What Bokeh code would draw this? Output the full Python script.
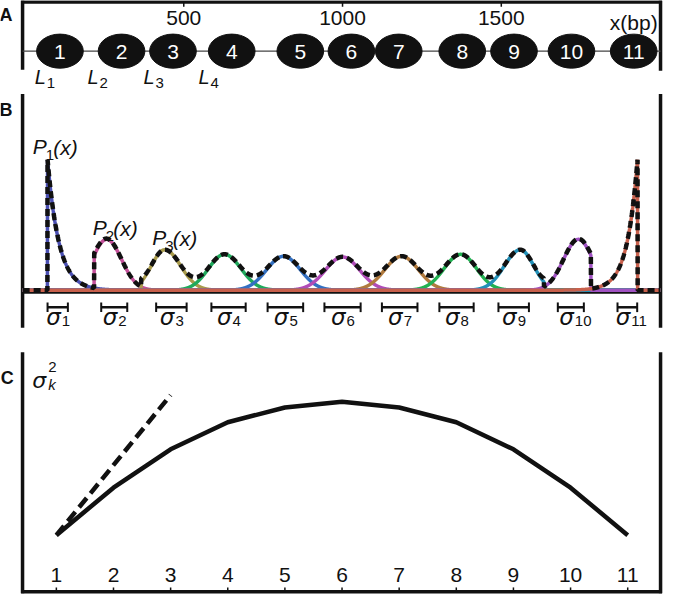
import numpy as np
from bokeh.plotting import figure
from bokeh.layouts import column
from bokeh.models import Range1d
from bokeh.core.properties import value
from bokeh.embed import file_html
from bokeh.resources import INLINE

# ---------------- data ----------------
# Panel A: nucleosome positions along the DNA (bp)
nuc_ids = ["1", "2", "3", "4", "5", "6", "7", "8", "9", "10", "11"]
nuc_centers_bp = [110, 304, 466, 651, 867, 1028, 1177, 1377, 1540, 1721, 1917]
nuc_length_bp = 147
bp_ticks = [500, 1000, 1500]
bp_tick_labels = ["500", "1000", "1500"]
linker_ids = ["1", "2", "3", "4"]
linker_label_bp = [31, 197, 373, 546]

# Panel B: position distributions P_k(x)
peak_bp = [71, 257, 440, 628, 814, 1000, 1186, 1372, 1560, 1743, 1929]
peak_height = [1.00, 0.39, 0.31, 0.275, 0.26, 0.255, 0.26, 0.275, 0.31, 0.39, 1.00]
width_left = [36, 45, 42, 50, 53, 54, 53, 52, 50, 47, 33]
width_right = [36, 47, 50, 52, 53, 54, 53, 50, 42, 45, 33]
tail_shape = ["exp", "gauss", "gauss", "gauss", "gauss", "gauss",
              "gauss", "gauss", "gauss", "gauss", "exp"]
lower_edge = [71, 218, 366, 0, 0, 0, 0, 0, 0, 0, 0]
upper_edge = [2000, 2000, 2000, 2000, 2000, 2000, 2000, 2000, 1634, 1782, 1929]
curve_colors = ["#4a4fb2", "#c4509a", "#a99b4c", "#1faa5c", "#3370c2", "#b04cb8",
                "#b07a3e", "#22b152", "#2190b8", "#a052c2", "#c8604c"]
sigma_mean_bp = [103, 281, 461, 641, 820, 1000, 1180, 1359, 1539, 1719, 1897]
sigma_bp = [32, 41, 48, 54, 56, 57, 56, 54, 48, 41, 31]
sigma_ids = ["1", "2", "3", "4", "5", "6", "7", "8", "9", "10", "11"]
p_label_ids = ["1", "2", "3"]
p_label_bp = [24.7, 213, 401]
p_label_y = [1.10, 0.478, 0.403]

# Panel C: variance of nucleosome position
k_vals = [1, 2, 3, 4, 5, 6, 7, 8, 9, 10, 11]
k_labels = ["1", "2", "3", "4", "5", "6", "7", "8", "9", "10", "11"]
sigma2 = [1.00, 1.84, 2.52, 3.00, 3.26, 3.36, 3.26, 3.00, 2.52, 1.84, 1.00]
linear_k = [1, 3]
linear_sigma2 = [1.00, 3.48]

# ---------------- styling ----------------
FONT = value("Liberation Sans")
GREEK = value("DejaVu Sans")
INK = "#111111"
W = 664
XR_BP = (-77.2, 2014.0)
X_LEFT, X_RIGHT = -7.7, 2001.5


def base_fig(h, xr, yr):
    p = figure(width=W, height=h, x_range=Range1d(*xr), y_range=Range1d(*yr),
               x_axis_type=None, y_axis_type=None, toolbar_location=None,
               output_backend="svg", min_border_left=0, min_border_right=0,
               min_border_top=0, min_border_bottom=0)
    p.outline_line_color = None
    p.background_fill_color = "white"
    p.border_fill_color = "white"
    return p


def txt(p, x, y, t, size="21px", style="normal", align="center", color=INK,
        font=FONT, x_offset=0, baseline="middle"):
    p.text(x=x, y=y, text=t, text_font=font, text_font_size=size,
           text_font_style=style, text_align=align, text_baseline=baseline,
           text_color=color, x_offset=x_offset)


# ---------------- Panel A ----------------
pA = base_fig(93, XR_BP, (95.48, 0))
pA.segment(x0=[-12.3], y0=[1.6], x1=[2006.2], y1=[1.6], line_width=3.5, line_color=INK)
pA.segment(x0=[X_LEFT, X_RIGHT], y0=[0, 0], x1=[X_LEFT, X_RIGHT], y1=[71, 72],
           line_width=3.5, line_color=INK)
pA.segment(x0=bp_ticks, y0=[1.5] * 3, x1=bp_ticks, y1=[6.5] * 3, line_width=1.5,
           line_color=INK)
pA.segment(x0=[X_LEFT], y0=[52], x1=[X_RIGHT], y1=[52], line_width=1.2, line_color="#444444")
pA.ellipse(x=nuc_centers_bp, y=[52] * 11, width=nuc_length_bp, height=35,
           fill_color=INK, line_color=INK)
txt(pA, nuc_centers_bp, [53] * 11, nuc_ids, color="white")
txt(pA, bp_ticks, [17.5] * 3, bp_tick_labels)
txt(pA, [1917], [23], ["x(bp)"])
txt(pA, linker_label_bp, [78.5] * 4, ["L"] * 4, size="20px", style="italic", align="left")
txt(pA, linker_label_bp, [85] * 4, linker_ids, size="15px", align="left", x_offset=12)
txt(pA, [-60], [15], ["A"], size="18px", style="bold")

# ---------------- Panel B ----------------
pB = base_fig(243, XR_BP, (-0.3545, 1.5076))
pB.segment(x0=[X_LEFT, X_RIGHT], y0=[1.504, 1.504], x1=[X_LEFT, X_RIGHT], y1=[-0.287, -0.287],
           line_width=3.5, line_color=INK)
pB.segment(x0=[X_LEFT], y0=[-0.013], x1=[X_RIGHT], y1=[-0.013], line_width=3.5,
           line_color=INK)

xg = np.arange(-7.5, 2001.01, 0.5)
total = np.zeros_like(xg)
for k in range(11):
    d = xg - peak_bp[k]
    w = np.where(d < 0, width_left[k], width_right[k])
    if tail_shape[k] == "exp":
        y = peak_height[k] * np.exp(-np.abs(d) / w)
    else:
        y = peak_height[k] * np.exp(-0.5 * (d / w) ** 2)
    y[(xg < lower_edge[k]) | (xg > upper_edge[k])] = 0.0
    total += y
    pB.line(xg, y, line_color=curve_colors[k], line_width=3.5)
pB.line(xg, total, line_color=INK, line_width=4.5, line_dash="7 4")

bar_y = -0.1306
m = np.array(sigma_mean_bp, dtype=float)
s = np.array(sigma_bp, dtype=float)
pB.segment(x0=m - s, y0=[bar_y] * 11, x1=m + s, y1=[bar_y] * 11, line_width=2.5,
           line_color=INK)
pB.segment(x0=np.concatenate([m - s, m + s]), y0=[bar_y - 0.037] * 22,
           x1=np.concatenate([m - s, m + s]), y1=[bar_y + 0.037] * 22,
           line_width=2, line_color=INK)
txt(pB, sigma_mean_bp, [-0.203] * 11, ["σ"] * 11, size="23px", style="italic",
    align="right", font=GREEK, x_offset=3)
txt(pB, sigma_mean_bp, [-0.238] * 11, sigma_ids, size="15px", align="left", x_offset=4)

txt(pB, p_label_bp, p_label_y, ["P"] * 3, size="21px", style="italic", align="left")
txt(pB, p_label_bp, [v - 0.062 for v in p_label_y], p_label_ids, size="15px",
    align="left", x_offset=13)
txt(pB, p_label_bp, [v - 0.008 for v in p_label_y], ["(x)"] * 3, size="21px",
    style="italic", align="left", x_offset=20.5)
txt(pB, [-60], [1.38], ["B"], size="18px", style="bold")

# ---------------- Panel C ----------------
pC = base_fig(258, (0.0223, 11.644), (-0.05, 4.517))
pC.segment(x0=[0.408, 11.575], y0=[4.24, 4.24], x1=[0.408, 11.575], y1=[-0.026, -0.026],
           line_width=3.5, line_color=INK)
pC.segment(x0=[0.383], y0=[0], x1=[11.6], y1=[0], line_width=3.5, line_color=INK)
pC.segment(x0=k_vals, y0=[0] * 11, x1=k_vals, y1=[0.075] * 11, line_width=1.5,
           line_color=INK)
txt(pC, k_vals, [0.293] * 11, k_labels)
pC.line(k_vals, sigma2, line_color=INK, line_width=4.5)
pC.line(linear_k, linear_sigma2, line_color=INK, line_width=4.5, line_dash="12 6")
txt(pC, [0.70], [3.74], ["σ"], size="22px", style="italic", font=GREEK)
txt(pC, [0.86], [3.97], ["2"], size="15px", align="left")
txt(pC, [0.86], [3.66], ["k"], size="15px", style="italic", align="left")
txt(pC, [0.142], [3.79], ["C"], size="18px", style="bold")

layout = column(pA, pB, pC, spacing=0)
open("out.html", "w").write(file_html(layout, INLINE))
